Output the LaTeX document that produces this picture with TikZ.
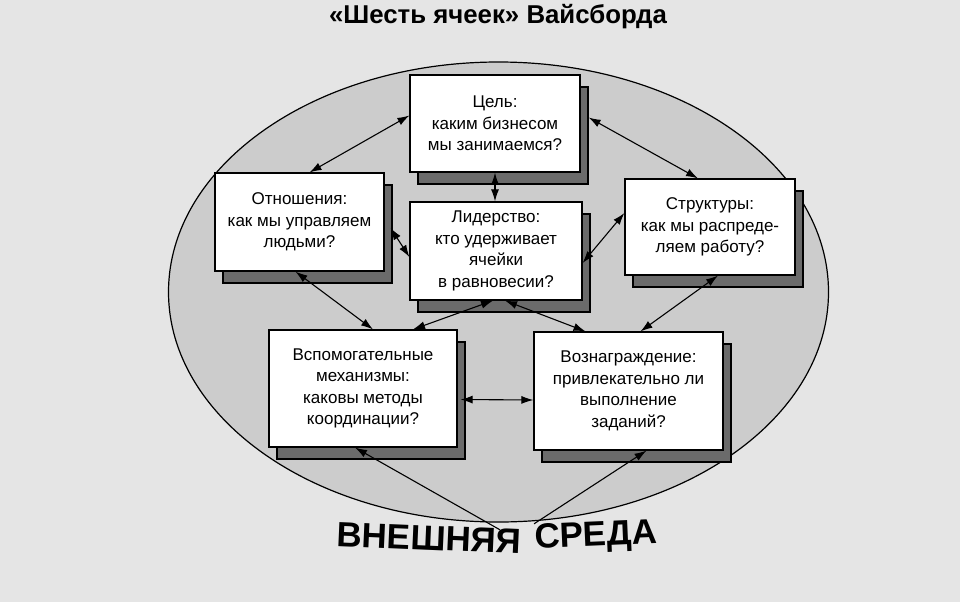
\documentclass[tikz,border=0pt]{standalone}
\usepackage{fontspec}
\setmainfont{Liberation Sans}
\usetikzlibrary{arrows.meta,shadows}
\definecolor{bggray}{gray}{0.9}
\definecolor{ovalgray}{gray}{0.8}
\definecolor{shadowgray}{gray}{0.42}

\begin{document}
\begin{tikzpicture}[x=1pt,y=-1pt,
  cell/.style={draw, fill=white, line width=1.2pt, align=center, inner sep=2pt,
    font=\fontsize{17}{21.5}\selectfont,
    copy shadow={shadow xshift=8pt, shadow yshift=-12pt, fill=shadowgray, draw=black}},
  link/.style={{Latex[length=12pt,width=8pt]}-{Latex[length=12pt,width=8pt]}, line width=1.1pt},
  feed/.style={-{Latex[length=12pt,width=8pt]}, line width=1.1pt},
  env/.style={inner sep=0pt, font=\bfseries\fontsize{35}{40}\selectfont}]

% background and oval
\fill[bggray] (0,0) rectangle (960,602);
\useasboundingbox (0,0) rectangle (960,602);
\draw[fill=ovalgray, line width=1.2pt] (498.5,292) ellipse [x radius=330, y radius=230];

\node (title) at (498,17) [font=\bfseries\fontsize{25.8}{30}\selectfont] {«Шесть ячеек» Вайсборда};

% six cells
\node (goal) at (495,123.5) [cell, minimum width=170pt, minimum height=97pt] {Цель:\\каким бизнесом\\мы занимаемся?};
\node (rel) at (299.5,222) [cell, minimum width=169pt, minimum height=98pt] {Отношения:\\как мы управляем\\людьми?};
\node (lead) at (496,251) [cell, minimum width=172pt, minimum height=98pt] {Лидерство:\\кто удерживает\\ячейки\\в равновесии?};
\node (struct) at (710,227) [cell, minimum width=170pt, minimum height=96pt] {Структуры:\\как мы распреде-\\ляем работу?};
\node (mech) at (363,388.5) [cell, minimum width=188pt, minimum height=117pt] {Вспомогательные\\механизмы:\\каковы методы\\координации?};
\node (reward) at (628.5,391) [cell, minimum width=189pt, minimum height=118pt] {Вознаграждение:\\привлекательно ли\\выполнение\\заданий?};

% outer environment
\node (envL) at (429,538) [env, rotate=-2.5] {ВНЕШНЯЯ};
\node (envR) at (596,537) [env, rotate=2.5] {СРЕДА};

% links between cells
\draw[link] ([yshift=8pt]goal.west) -- ([xshift=10pt]rel.north);
\draw[link] ([xshift=8pt,yshift=6pt]goal.east) -- ([xshift=-12pt]struct.north);
\draw[link] (goal.south) -- (goal.south |- lead.north);
\draw[link] ([xshift=6pt,yshift=-6pt]rel.east) -- ([yshift=-6pt]lead.west);
\draw[link] ([yshift=14pt]struct.west) -- ([yshift=-12pt]lead.east);
\draw[link] ([xshift=8pt]struct.south) -- ([xshift=12pt]reward.north);
\draw[link] ([xshift=-4pt]rel.south) -- ([xshift=10pt]mech.north);
\draw[link] ([xshift=-3pt]lead.south) -- ([xshift=50pt]mech.north);
\draw[link] ([xshift=9pt]lead.south) -- ([xshift=-43pt]reward.north);
\draw[link] ([xshift=3pt,yshift=-11pt]mech.east) -- ([yshift=-9pt]reward.west);

% environment to cells
\draw[feed] ([xshift=-22pt]envL.north east) -- ([xshift=-8pt]mech.south);
\draw[feed] ([xshift=0pt]envR.north west) -- ([xshift=18pt]reward.south);

\end{tikzpicture}
\end{document}
